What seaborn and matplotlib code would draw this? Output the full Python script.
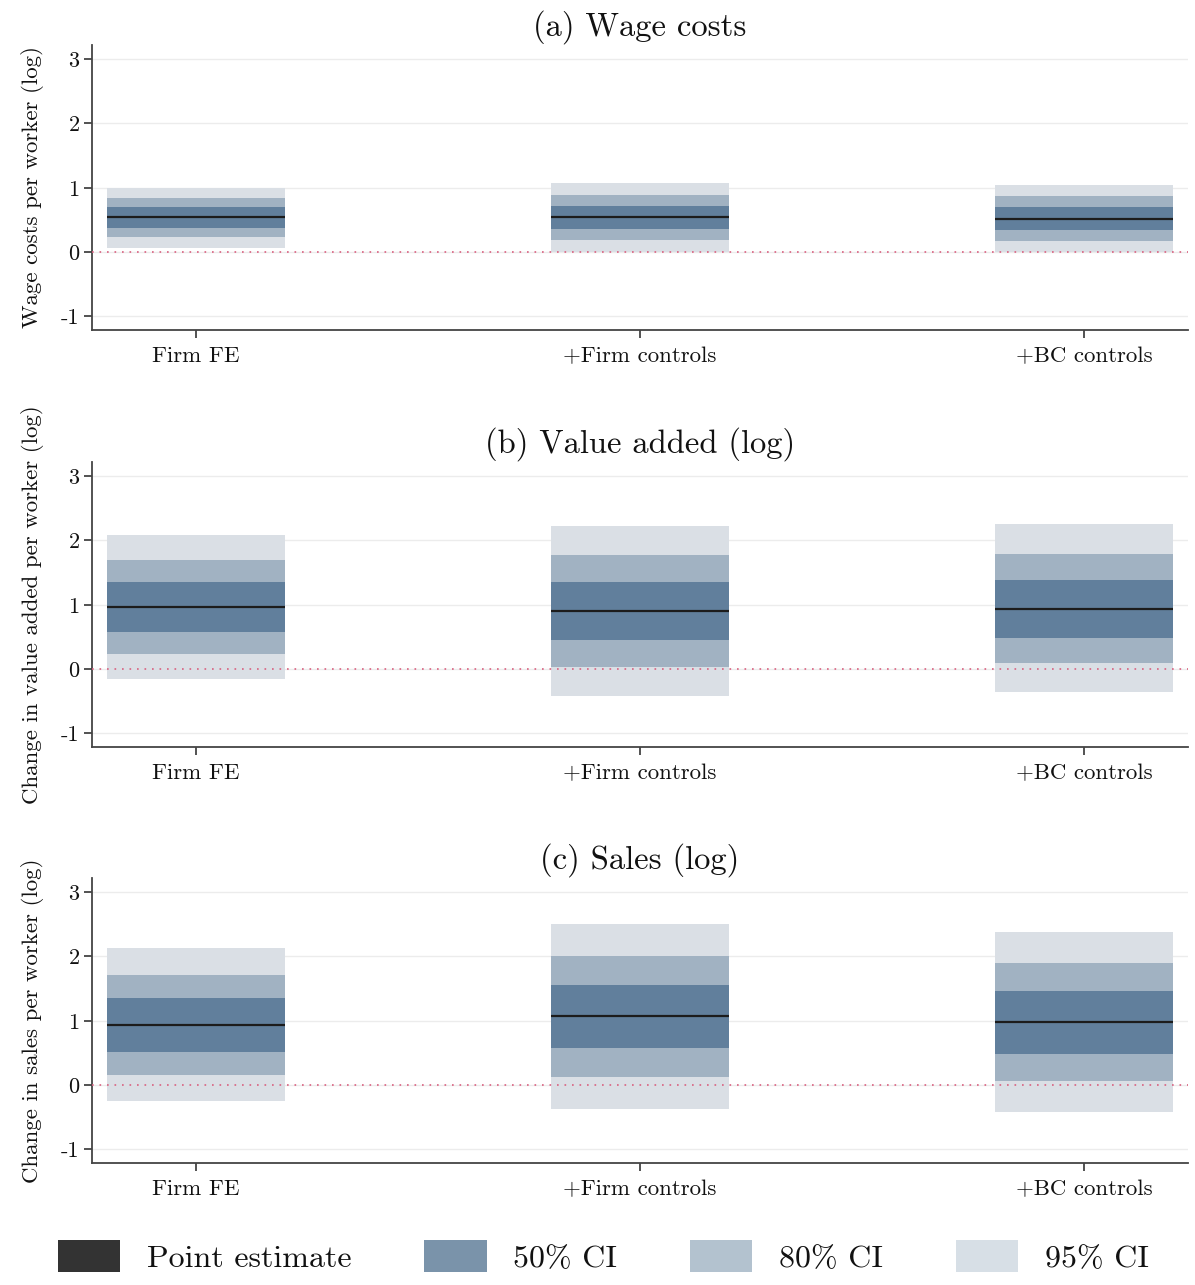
import numpy as np
import pandas as pd
import matplotlib
matplotlib.use("Agg")
import matplotlib.pyplot as plt
from matplotlib.patches import Patch
import seaborn as sns

# ---------------- data ----------------
specs = ["Firm FE", "+Firm controls", "+BC controls"]
titles = ["(a) Wage costs", "(b) Value added (log)", "(c) Sales (log)"]
ylabels = ["Wage costs per worker (log)",
           "Change in value added per worker (log)",
           "Change in sales per worker (log)"]
yticks = [-1, 0, 1, 2, 3]
ytick_labels = ["-1", "0", "1", "2", "3"]

wage_point = [0.54, 0.54, 0.52]
wage_50_lo = [0.38, 0.36, 0.35]
wage_50_hi = [0.70, 0.71, 0.70]
wage_80_lo = [0.24, 0.19, 0.18]
wage_80_hi = [0.84, 0.885, 0.87]
wage_95_lo = [0.07, 0.01, 0.01]
wage_95_hi = [0.99, 1.07, 1.05]

va_point = [0.96, 0.91, 0.94]
va_50_lo = [0.57, 0.46, 0.49]
va_50_hi = [1.35, 1.36, 1.39]
va_80_lo = [0.23, 0.04, 0.09]
va_80_hi = [1.69, 1.77, 1.79]
va_95_lo = [-0.16, -0.42, -0.36]
va_95_hi = [2.08, 2.23, 2.25]

sales_point = [0.94, 1.07, 0.98]
sales_50_lo = [0.52, 0.58, 0.49]
sales_50_hi = [1.36, 1.56, 1.46]
sales_80_lo = [0.16, 0.13, 0.06]
sales_80_hi = [1.72, 2.01, 1.90]
sales_95_lo = [-0.25, -0.37, -0.42]
sales_95_hi = [2.13, 2.50, 2.38]

legend_labels = ["Point estimate", "50% CI", "80% CI", "95% CI"]

panels = [
    (wage_point, (wage_95_lo, wage_95_hi), (wage_80_lo, wage_80_hi), (wage_50_lo, wage_50_hi)),
    (va_point, (va_95_lo, va_95_hi), (va_80_lo, va_80_hi), (va_50_lo, va_50_hi)),
    (sales_point, (sales_95_lo, sales_95_hi), (sales_80_lo, sales_80_hi), (sales_50_lo, sales_50_hi)),
]

# ---------------- style ----------------
sns.set_style("white")
plt.rcParams["font.family"] = ["cmr10", "DejaVu Serif"]
plt.rcParams["axes.unicode_minus"] = False
plt.rcParams["mathtext.fontset"] = "cm"
plt.rcParams["text.color"] = "#111111"
plt.rcParams["axes.labelcolor"] = "#111111"
plt.rcParams["xtick.color"] = "#111111"
plt.rcParams["ytick.color"] = "#111111"

c95 = "#dadfe5"
c80 = "#a1b2c2"
c50 = "#617f9c"
cpt = "#1c1c1c"
leg_colors = ["#333333", "#7a93aa", "#b3c2cf", "#d7dfe6"]
spine_c = "#444444"

fig = plt.figure(figsize=(11.95, 12.85), dpi=100)
left, width = 0.077, 0.917
tops = [45, 462, 878]
ax_h_px = 285
H = 1285

bar_w = 0.4
for i, (point, ci95, ci80, ci50) in enumerate(panels):
    top = tops[i]
    ax = fig.add_axes([left, 1 - (top + ax_h_px) / H, width, ax_h_px / H])
    for (lo, hi), col, z in [(ci95, c95, 2), (ci80, c80, 3), (ci50, c50, 4)]:
        lo = np.asarray(lo, float)
        hi = np.asarray(hi, float)
        df = pd.DataFrame({"spec": specs, "h": hi - lo})
        sns.barplot(data=df, x="spec", y="h", order=specs, bottom=lo, color=col,
                    saturation=1, width=bar_w, errorbar=None, linewidth=0,
                    zorder=z, ax=ax)
    pos = np.arange(len(specs))
    ax.hlines(point, pos - bar_w / 2, pos + bar_w / 2, color=cpt, lw=1.6, zorder=6)
    ax.axhline(0, color="#d9607f", lw=1.2, linestyle=(0, (1, 3.5)), zorder=7)

    ax.set_xlim(-0.234, 2.234)
    ax.set_ylim(-1.21, 3.22)
    ax.set_yticks(yticks)
    ax.set_yticklabels(ytick_labels)
    ax.yaxis.grid(True, color="#ececec", lw=1)
    ax.xaxis.grid(False)
    ax.set_axisbelow(True)
    ax.set_xlabel("")
    ax.set_ylabel(ylabels[i], fontsize=16.5, labelpad=12)
    ax.set_title(titles[i], fontsize=23.5, pad=7)
    for s in ["top", "right"]:
        ax.spines[s].set_visible(False)
    for s in ["left", "bottom"]:
        ax.spines[s].set_color(spine_c)
        ax.spines[s].set_linewidth(1.3)
    ax.tick_params(axis="y", left=True, labelsize=16, length=6, width=1.3,
                   color=spine_c, pad=3)
    ax.tick_params(axis="x", bottom=True, labelsize=16.5, length=6, width=1.3,
                   color=spine_c, pad=6)

handles = [Patch(facecolor=c, edgecolor="none") for c in leg_colors]
fig.legend(handles, legend_labels, loc="lower center", bbox_to_anchor=(0.505, -0.013),
           ncol=4, frameon=False, fontsize=23, handlelength=1.95, handleheight=1.15,
           handletextpad=0.84, columnspacing=2.27)

fig.savefig("out.png", dpi=100)
